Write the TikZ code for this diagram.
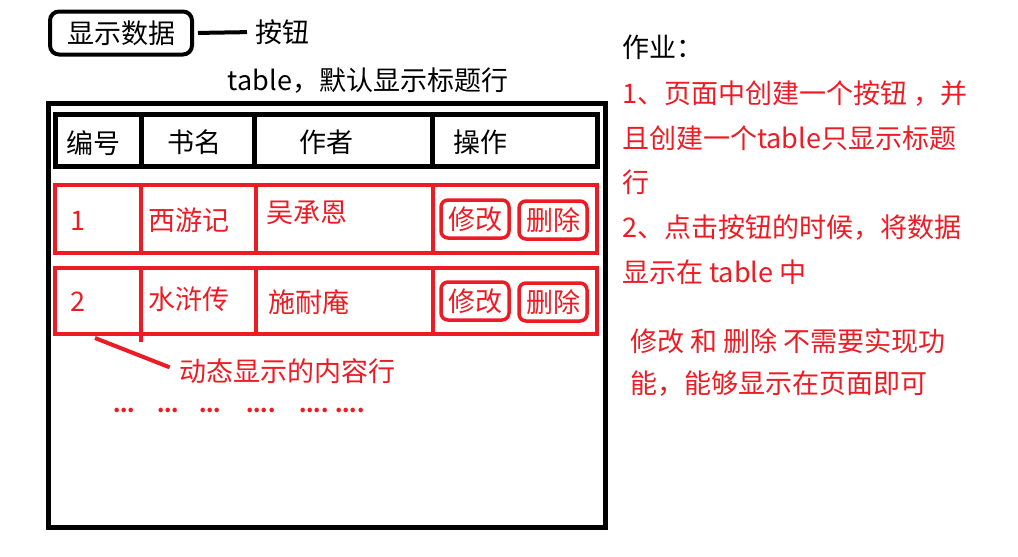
\documentclass[tikz,border=0pt]{standalone}
\usepackage{fontspec}
\setmainfont{Noto Sans CJK SC}
\definecolor{pr}{RGB}{237,28,36}
\begin{document}
\begin{tikzpicture}[x=1pt,y=-1pt,
  txt/.style={font=\fontsize{27}{30}\selectfont, inner sep=0pt, anchor=west},
  rtxt/.style={txt, text=pr},
  bk/.style={line width=5pt, draw=black},
  rd/.style={line width=4pt, draw=pr},
  rbtn/.style={draw=pr, line width=3.5pt, rounded corners=7pt, minimum width=68pt, minimum height=38pt, inner sep=0pt, text=pr, font=\fontsize{27}{28}\selectfont},
  dots/.style={text=pr, font=\fontsize{21}{22}\selectfont\bfseries, inner sep=0pt, anchor=west}]
\useasboundingbox (0,0) rectangle (1018,557);
% button
\node[draw, line width=4pt, rounded corners=9pt, minimum width=142pt, minimum height=43pt, inner sep=0pt, font=\fontsize{27}{30}\selectfont] (btn) at (121,33) {显示数据};
\node[txt] (anniu) at (255,32) {按钮};
\draw[line width=4pt, shorten <=4pt, shorten >=8pt] (btn.east) -- (anniu.west);
\node[txt, anchor=center] (cap) at (368,81) {table，默认显示标题行};
% outer table
\draw[bk] (48,103) rectangle (605,527);
% header row
\draw[bk] (55,114) rectangle (597,166);
\draw[bk] (141,114) -- (141,166);
\draw[bk] (254,114) -- (254,166);
\draw[bk] (432,114) -- (432,166);
\node[txt] (h1) at (66,143) {编号};
\node[txt] (h2) at (167,142) {书名};
\node[txt] (h3) at (299,142) {作者};
\node[txt] (h4) at (453,142) {操作};
% row 1
\draw[rd] (55,185) rectangle (597,253);
\draw[rd] (141,185) -- (141,253);
\draw[rd] (256,185) -- (256,253);
\draw[rd] (433,185) -- (433,253);
\node[rtxt] (r1a) at (70,221) {1};
\node[rtxt] (r1b) at (148,220) {西游记};
\node[rtxt] (r1c) at (266,213) {吴承恩};
\node[rbtn] (r1e) at (475,219) {修改};
\node[rbtn] (r1d) at (553,220) {删除};
% row 2
\draw[rd] (55,268) rectangle (597,334);
\draw[rd] (141,268) -- (141,342);
\draw[rd] (256,268) -- (256,334);
\draw[rd] (433,268) -- (433,334);
\node[rtxt] (r2a) at (70,302) {2};
\node[rtxt] (r2b) at (148,299) {水浒传};
\node[rtxt] (r2c) at (268,302) {施耐庵};
\node[rbtn] (r2e) at (475,301) {修改};
\node[rbtn] (r2d) at (553,302) {删除};
% pointer
\coordinate (ptr) at (95,338);
\node[rtxt] (dyn) at (179,371) {动态显示的内容行};
\draw[rd, shorten >=10pt] (ptr) -- (dyn.west);
% dots
\node[dots] (d1) at (113,410) {...};
\node[dots] (d2) at (157,410) {...};
\node[dots] (d3) at (199,410) {...};
\node[dots] (d4) at (246,410) {....};
\node[dots] (d5) at (299,410) {.... ....};
% right text
\node[txt] (t0) at (622,47) {作业：};
\node[rtxt] (t1) at (622,94) {1、页面中创建一个按钮 ，并};
\node[rtxt] (t2) at (622,138) {且创建一个table只显示标题};
\node[rtxt] (t3) at (622,182) {行};
\node[rtxt] (t4) at (622,228) {2、点击按钮的时候，将数据};
\node[rtxt] (t5) at (622,272) {显示在 table 中};
\node[rtxt] (t6) at (630,341) {修改 和 删除 不需要实现功};
\node[rtxt] (t7) at (630,384) {能，能够显示在页面即可};
\end{tikzpicture}
\end{document}
